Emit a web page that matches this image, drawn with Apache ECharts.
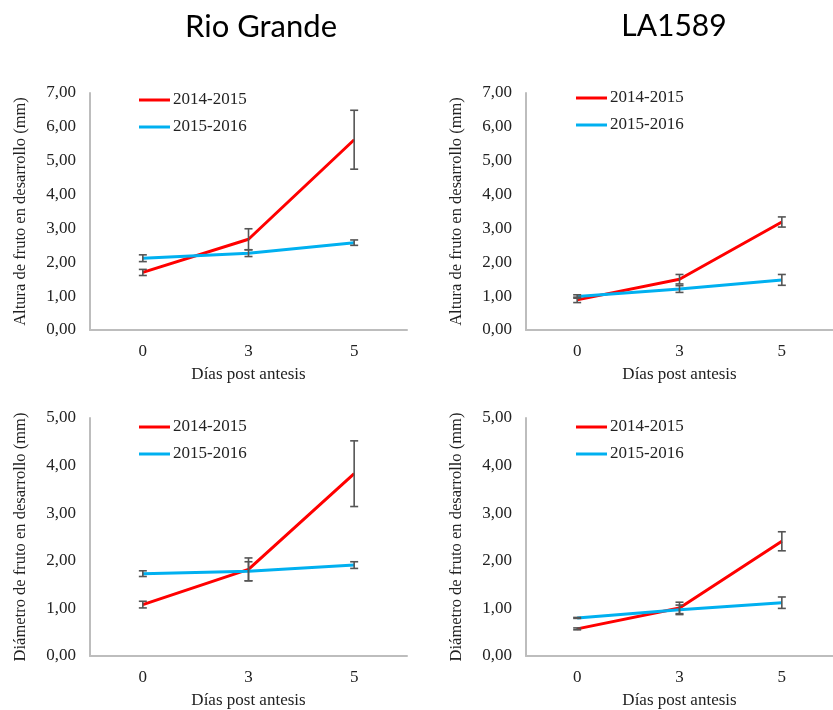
<!DOCTYPE html>
<html>
<head>
<meta charset="utf-8">
<script src="https://cdn.jsdelivr.net/npm/echarts@6/dist/echarts.min.js"></script>
<style>
  html, body { margin: 0; padding: 0; background: #ffffff; }
  #chart { width: 833px; height: 710px; }
</style>
</head>
<body>
<div id="chart"></div>
<script>
// Days after anthesis (category axis)
var days = ['0', '3', '5'];
var seasons = ['2014-2015', '2015-2016'];
var panelTitles = ['Rio Grande', 'LA1589'];

// Fruit height (mm): mean and error
var rioAltura2014 = [1.70, 2.68, 5.62];
var rioAltura2014Err = [0.09, 0.31, 0.87];
var rioAltura2015 = [2.12, 2.27, 2.58];
var rioAltura2015Err = [0.10, 0.10, 0.08];

var laAltura2014 = [0.89, 1.50, 3.19];
var laAltura2014Err = [0.08, 0.14, 0.15];
var laAltura2015 = [0.99, 1.21, 1.48];
var laAltura2015Err = [0.05, 0.10, 0.16];

// Fruit diameter (mm): mean and error
var rioDiam2014 = [1.08, 1.82, 3.83];
var rioDiam2014Err = [0.07, 0.24, 0.69];
var rioDiam2015 = [1.73, 1.78, 1.91];
var rioDiam2015Err = [0.06, 0.20, 0.07];

var laDiam2014 = [0.57, 1.01, 2.41];
var laDiam2014Err = [0.02, 0.12, 0.20];
var laDiam2015 = [0.80, 0.97, 1.12];
var laDiam2015Err = [0.01, 0.10, 0.12];

var yNameAltura = 'Altura de fruto en desarrollo (mm)';
var yNameDiam = 'Diámetro de fruto en desarrollo (mm)';
var xName = 'Días post antesis';

var RED = '#ff0000';
var BLUE = '#00b0f0';
var TEXT = '#222222';
var AXIS = '#bdbdbd';
var SERIF = '"Liberation Serif", "Times New Roman", serif';
var SANS = 'Lato, "Open Sans", sans-serif';

var panels = [
  { grid: { left: 90, top: 93, width: 317, height: 237 }, max: 7, yName: yNameAltura,
    a: rioAltura2014, aErr: rioAltura2014Err, b: rioAltura2015, bErr: rioAltura2015Err, legend: { left: 139, top: 91 } },
  { grid: { left: 526, top: 93, width: 314, height: 237 }, max: 7, yName: yNameAltura,
    a: laAltura2014, aErr: laAltura2014Err, b: laAltura2015, bErr: laAltura2015Err, legend: { left: 576, top: 89 } },
  { grid: { left: 90, top: 418, width: 317, height: 239 }, max: 5, yName: yNameDiam,
    a: rioDiam2014, aErr: rioDiam2014Err, b: rioDiam2015, bErr: rioDiam2015Err, legend: { left: 139, top: 418 } },
  { grid: { left: 526, top: 418, width: 314, height: 239 }, max: 5, yName: yNameDiam,
    a: laDiam2014, aErr: laDiam2014Err, b: laDiam2015, bErr: laDiam2015Err, legend: { left: 576, top: 418 } }
];

function errData(mean, err) {
  return mean.map(function (m, i) { return [i, m - err[i], m + err[i]]; });
}

function renderErrorBar(params, api) {
  var lo = api.coord([api.value(0), api.value(1)]);
  var hi = api.coord([api.value(0), api.value(2)]);
  var half = 4;
  var style = { stroke: '#555555', lineWidth: 1.6 };
  return {
    type: 'group',
    children: [
      { type: 'line', shape: { x1: hi[0], y1: hi[1], x2: lo[0], y2: lo[1] }, style: style },
      { type: 'line', shape: { x1: hi[0] - half, y1: hi[1], x2: hi[0] + half, y2: hi[1] }, style: style },
      { type: 'line', shape: { x1: lo[0] - half, y1: lo[1], x2: lo[0] + half, y2: lo[1] }, style: style }
    ]
  };
}

var grids = [], xAxes = [], yAxes = [], series = [], legends = [];

panels.forEach(function (p, k) {
  grids.push(p.grid);
  xAxes.push({
    type: 'category', gridIndex: k, data: days, boundaryGap: true,
    name: xName, nameLocation: 'middle', nameGap: 36,
    nameTextStyle: { fontFamily: SERIF, fontSize: 17, color: TEXT },
    axisLine: { lineStyle: { color: AXIS, width: 2 } },
    axisTick: { show: false },
    axisLabel: { fontFamily: SERIF, fontSize: 17, color: TEXT, margin: 13 },
    splitLine: { show: false }
  });
  yAxes.push({
    type: 'value', gridIndex: k, min: 0, max: p.max, interval: 1,
    name: p.yName, nameLocation: 'middle', nameGap: 61, nameRotate: 90,
    nameTextStyle: { fontFamily: SERIF, fontSize: 16.5, color: TEXT },
    axisLine: { show: true, lineStyle: { color: AXIS, width: 2 } },
    axisTick: { show: false },
    splitLine: { show: false },
    axisLabel: {
      fontFamily: SERIF, fontSize: 17, color: TEXT, margin: 14,
      formatter: function (v) { return v.toFixed(2).replace('.', ','); }
    }
  });
  series.push({
    name: seasons[0], type: 'line', xAxisIndex: k, yAxisIndex: k, data: p.a,
    showSymbol: false, symbol: 'none', lineStyle: { color: RED, width: 3 }, itemStyle: { color: RED }, z: 2
  });
  series.push({
    name: seasons[1], type: 'line', xAxisIndex: k, yAxisIndex: k, data: p.b,
    showSymbol: false, symbol: 'none', lineStyle: { color: BLUE, width: 3 }, itemStyle: { color: BLUE }, z: 2
  });
  series.push({
    type: 'custom', xAxisIndex: k, yAxisIndex: k, data: errData(p.a, p.aErr),
    renderItem: renderErrorBar, encode: { x: 0, y: [1, 2] }, z: 3, silent: true
  });
  series.push({
    type: 'custom', xAxisIndex: k, yAxisIndex: k, data: errData(p.b, p.bErr),
    renderItem: renderErrorBar, encode: { x: 0, y: [1, 2] }, z: 3, silent: true
  });
  legends.push({
    data: seasons, orient: 'vertical', left: p.legend.left, top: p.legend.top, padding: 0,
    icon: 'rect', itemWidth: 31, itemHeight: 3, itemGap: 9,
    textStyle: { fontFamily: SERIF, fontSize: 17, color: TEXT, lineHeight: 18, padding: [0, 0, 0, -2] },
    selectedMode: false
  });
});

var option = {
  animation: false,
  backgroundColor: '#ffffff',
  title: [
    { text: panelTitles[0], left: 256, top: 6, textAlign: 'center',
      textStyle: { fontFamily: SANS, fontSize: 31, fontWeight: 'normal', color: '#000000' } },
    { text: panelTitles[1], left: 669, top: 6, textAlign: 'center',
      textStyle: { fontFamily: SANS, fontSize: 30, fontWeight: 'normal', color: '#000000' } }
  ],
  legend: legends,
  grid: grids,
  xAxis: xAxes,
  yAxis: yAxes,
  series: series
};

var chart = echarts.init(document.getElementById('chart'), null, { renderer: 'canvas' });
chart.setOption(option);
</script>
</body>
</html>
